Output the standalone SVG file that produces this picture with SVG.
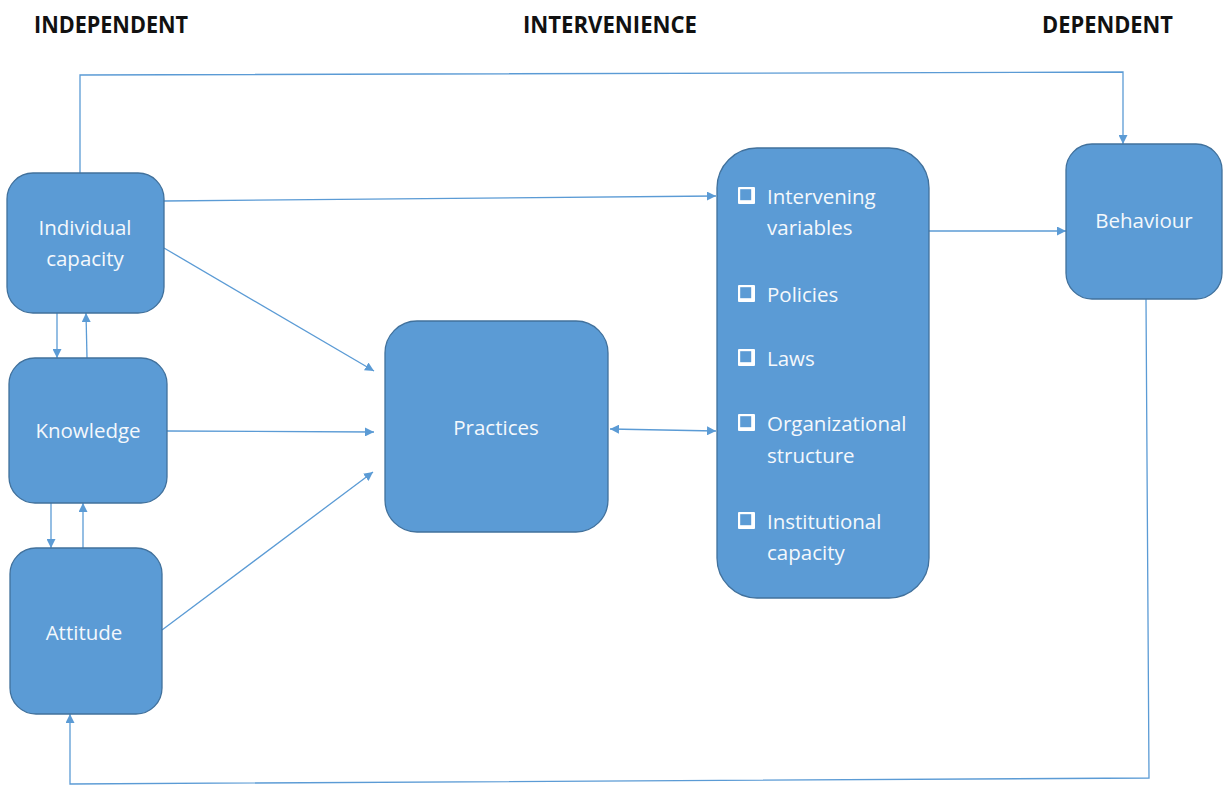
<svg xmlns="http://www.w3.org/2000/svg" width="1223" height="789" viewBox="0 0 1223 789">
  <style>
    .box { fill: #5B9BD5; stroke: #41719C; stroke-width: 1.3; }
    .lbl { fill: #F4F8FC; font-family: "Open Sans", "Noto Sans", sans-serif; font-size: 20.5px; }
    .mid { text-anchor: middle; }
    .hdr { fill: #111111; font-family: "Open Sans", "Noto Sans", sans-serif; font-size: 24px; font-weight: bold; }
    .wire { fill: none; stroke: #5B9BD5; stroke-width: 1.3; }
    .arr { marker-end: url(#tip); }
    .both { marker-start: url(#tip); marker-end: url(#tip); }
    .chk { fill: #FFFFFF; }
    .chk-in { fill: #5B9BD5; }
  </style>
  <defs>
    <marker id="tip" viewBox="0 0 10 10" refX="10" refY="5" markerWidth="9" markerHeight="9" markerUnits="userSpaceOnUse" orient="auto-start-reverse">
      <path d="M0,0 L10,5 L0,10 z" fill="#5B9BD5"/>
    </marker>
    <!-- square bullet with a heavier lower-right edge -->
    <g id="bullet">
      <rect class="chk" x="0" y="0" width="17" height="17" rx="1"/>
      <rect class="chk-in" x="2.2" y="2.2" width="11" height="11"/>
    </g>
  </defs>

  <rect width="1223" height="789" fill="#FFFFFF"/>

  <!-- column headings -->
  <g id="headings">
    <text class="hdr" x="34" y="33" textLength="154" lengthAdjust="spacingAndGlyphs">INDEPENDENT</text>
    <text class="hdr" x="523" y="33" textLength="174" lengthAdjust="spacingAndGlyphs">INTERVENIENCE</text>
    <text class="hdr" x="1042" y="33" textLength="131" lengthAdjust="spacingAndGlyphs">DEPENDENT</text>
  </g>

  <!-- connectors -->
  <g id="connectors">
    <polyline class="wire arr" points="80,173 80,75 1123,72 1123,144"/>
    <line class="wire arr" x1="57" y1="313" x2="57" y2="358"/>
    <line class="wire arr" x1="87" y1="358" x2="86" y2="313"/>
    <line class="wire arr" x1="51" y1="503" x2="51" y2="548"/>
    <line class="wire arr" x1="83" y1="548" x2="83" y2="503"/>
    <line class="wire arr" x1="164" y1="201" x2="716" y2="196"/>
    <line class="wire arr" x1="929" y1="231" x2="1066" y2="231"/>
    <line class="wire arr" x1="164" y1="248" x2="374" y2="371"/>
    <line class="wire arr" x1="167" y1="431" x2="374" y2="432"/>
    <line class="wire arr" x1="162" y1="630" x2="373" y2="472"/>
    <line class="wire both" x1="610" y1="429" x2="716" y2="431"/>
    <polyline class="wire arr" points="1146,299 1149,778 70,784 70,714"/>
  </g>

  <g id="individual-capacity">
    <rect class="box" x="7" y="173" width="157" height="140" rx="26"/>
    <text class="lbl mid" x="85" y="235">Individual</text>
    <text class="lbl mid" x="85" y="266">capacity</text>
  </g>

  <g id="knowledge">
    <rect class="box" x="9" y="358" width="158" height="145" rx="26"/>
    <text class="lbl mid" x="88" y="438">Knowledge</text>
  </g>

  <g id="attitude">
    <rect class="box" x="10" y="548" width="152" height="166" rx="26"/>
    <text class="lbl mid" x="84" y="640">Attitude</text>
  </g>

  <g id="practices">
    <rect class="box" x="385" y="321" width="223" height="211" rx="32"/>
    <text class="lbl mid" x="496" y="435">Practices</text>
  </g>

  <g id="intervening">
    <rect class="box" x="717" y="148" width="212" height="450" rx="40"/>
    <use href="#bullet" x="738" y="187"/>
    <text class="lbl" x="767" y="204">Intervening</text>
    <text class="lbl" x="767" y="235">variables</text>
    <use href="#bullet" x="738" y="285"/>
    <text class="lbl" x="767" y="302">Policies</text>
    <use href="#bullet" x="738" y="349"/>
    <text class="lbl" x="767" y="366">Laws</text>
    <use href="#bullet" x="738" y="414"/>
    <text class="lbl" x="767" y="431">Organizational</text>
    <text class="lbl" x="767" y="463">structure</text>
    <use href="#bullet" x="738" y="512"/>
    <text class="lbl" x="767" y="529">Institutional</text>
    <text class="lbl" x="767" y="560">capacity</text>
  </g>

  <g id="behaviour">
    <rect class="box" x="1066" y="144" width="156" height="155" rx="26"/>
    <text class="lbl mid" x="1144" y="228">Behaviour</text>
  </g>
</svg>
